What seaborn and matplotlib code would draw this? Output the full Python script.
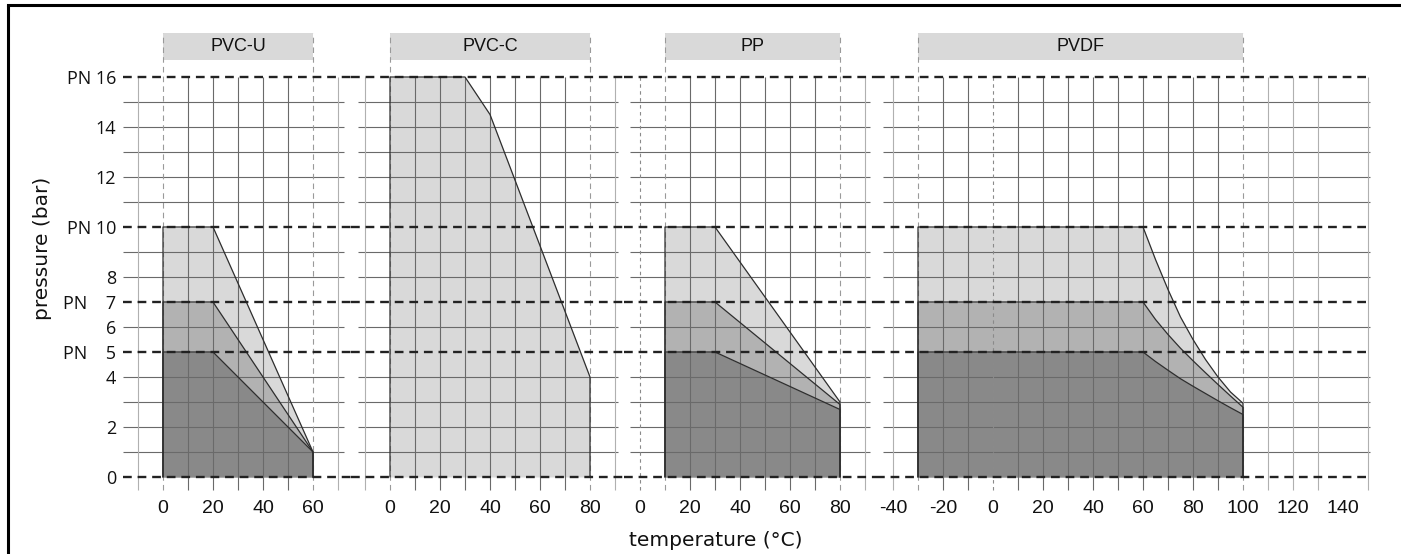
import matplotlib
matplotlib.use("Agg")
import matplotlib.pyplot as plt
import seaborn as sns
import pandas as pd
from matplotlib.lines import Line2D
from matplotlib.patches import Rectangle

# ---------------- data ----------------
materials = ["PVC-U", "PVC-C", "PP", "PVDF"]
header_ranges = [(0, 60), (0, 80), (10, 80), (-30, 100)]
xtick_values = [[0, 20, 40, 60],
                [0, 20, 40, 60, 80],
                [0, 20, 40, 60, 80],
                [-40, -20, 0, 20, 40, 60, 80, 100, 120, 140]]

pn_levels = [16, 10, 7, 5, 0]
ytick_values = [0, 2, 4, 5, 6, 7, 8, 10, 12, 14, 16]
ytick_labels = ["0", "2", "4", "PN    5", "6", "PN    7", "8", "PN 10", "12", "14", "PN 16"]
minor_grid_y = [1, 2, 3, 4, 6, 8, 9, 11, 12, 13, 14, 15]

pvcu_temp = [0, 20, 60]
pvcu_pn10 = [10, 10, 1]
pvcu_pn7 = [7, 7, 1]
pvcu_pn5 = [5, 5, 1]

pvcc_temp = [0, 30, 40, 80]
pvcc_pn16 = [16, 16, 14.5, 4]

pp_temp = [10, 30, 80]
pp_pn10 = [10, 10, 3.0]
pp_pn7 = [7, 7, 2.9]
pp_pn5 = [5, 5, 2.7]

pvdf_temp = [-30, 60, 65, 70, 75, 80, 85, 90, 95, 100]
pvdf_pn10 = [10, 10, 8.7, 7.5, 6.4, 5.5, 4.7, 4.0, 3.4, 2.95]
pvdf_pn7 = [7, 7, 6.3, 5.7, 5.15, 4.65, 4.17, 3.7, 3.24, 2.79]
pvdf_pn5 = [5, 5, 4.62, 4.27, 3.93, 3.63, 3.34, 3.05, 2.77, 2.5]

# curves per panel: (temps, pressures, fill colour)
LIGHT, MID, DARK = "#d9d9d9", "#b2b2b2", "#898989"
panel_curves = [
    [(pvcu_temp, pvcu_pn10, LIGHT), (pvcu_temp, pvcu_pn7, MID), (pvcu_temp, pvcu_pn5, DARK)],
    [(pvcc_temp, pvcc_pn16, LIGHT)],
    [(pp_temp, pp_pn10, LIGHT), (pp_temp, pp_pn7, MID), (pp_temp, pp_pn5, DARK)],
    [(pvdf_temp, pvdf_pn10, LIGHT), (pvdf_temp, pvdf_pn7, MID), (pvdf_temp, pvdf_pn5, DARK)],
]

# grid layout per panel
inner_vlines = [[10, 20, 30, 40, 50],
                [10, 20, 30, 40, 50, 60, 70],
                [20, 30, 40, 50, 60, 70],
                [-20, -10, 10, 20, 30, 40, 50, 60, 70, 80, 90]]
outer_vlines = [[-10, 70], [-10, 90], [90], [-40, 110, 120, 130, 150]]
zero_vlines = [[], [], [0], [0]]
hgrid_extent = [(-16, 72.4), (-12.8, 91.2), (-4, 92), (-44, 150.8)]
pn_extent = [(-16, 75.2), (-15.6, 93.6), (-6.4, 94.4), (-46.8, 151)]

# axes placement in pixels: (left px, right px, px of temp 0)
panel_px = [(123, 351, 163), (351, 624, 390), (624, 876, 640), (876, 1385, 993)]
PX_PER_DEG = 2.5
W, H = 1401, 554
Y_BOT_PX, Y_TOP_PX = 492, 32
YLIM = (-0.6, 17.8)

# ---------------- drawing ----------------
sns.set_theme(style="white")
plt.rcParams["lines.scale_dashes"] = False
plt.rcParams["font.family"] = ["Liberation Sans", "DejaVu Sans"]

fig = plt.figure(figsize=(W / 100, H / 100), dpi=100)
fig.patch.set_facecolor("white")

GRID_DARK = "#6a6a6a"
GRID_LIGHT = "#b0b0b0"
PN_DASH = (0, (6.3, 4.2))

for i, mat in enumerate(materials):
    lpx, rpx, zpx = panel_px[i]
    ax = fig.add_axes([lpx / W, 1 - Y_BOT_PX / H, (rpx - lpx) / W, (Y_BOT_PX - Y_TOP_PX) / H])
    ax.set_facecolor("none")
    ax.set_xlim((lpx - zpx) / PX_PER_DEG, (rpx - zpx) / PX_PER_DEG)
    ax.set_ylim(*YLIM)
    for s in ax.spines.values():
        s.set_visible(False)

    # fills
    for temps, pres, col in panel_curves[i]:
        ax.fill_between(temps, 0, pres, color=col, lw=0, zorder=1)

    # horizontal grid
    hx0, hx1 = hgrid_extent[i]
    ax.hlines(minor_grid_y, hx0, hx1, color=GRID_DARK, lw=0.8, zorder=2)

    # vertical grid
    ax.vlines(inner_vlines[i], -0.52, 16, color=GRID_DARK, lw=0.8, zorder=2)
    ax.vlines(outer_vlines[i], -0.52, 16, color=GRID_LIGHT, lw=0.8, zorder=2)
    if zero_vlines[i]:
        ax.vlines(zero_vlines[i], -0.52, 16, color="#8a8a8a", lw=0.8,
                  linestyles=[(0, (2.5, 2.5))], zorder=2)

    # header
    h0, h1 = header_ranges[i]
    ax.add_patch(Rectangle((h0, 16.68), h1 - h0, 1.08, facecolor="#d9d9d9",
                           edgecolor="none", clip_on=False, zorder=1))
    ax.text((h0 + h1) / 2, 17.22, mat, ha="center", va="center", fontsize=13,
            color="#111111", family=["Liberation Sans", "DejaVu Sans"], zorder=5)
    ax.vlines([h0, h1], -0.52, 17.76, color="#9a9a9a", lw=0.8,
              linestyles=[(0, (4, 3))], zorder=2, clip_on=False)

    # outlines via seaborn
    for temps, pres, col in panel_curves[i]:
        ox = [temps[0]] + list(temps) + [temps[-1]]
        oy = [0] + list(pres) + [0]
        df = pd.DataFrame({"temp": ox, "p": oy})
        sns.lineplot(data=df, x="temp", y="p", sort=False, estimator=None,
                     color="#2e2e2e", lw=0.9, ax=ax, zorder=3)

    # PN dashed lines
    px0, px1 = pn_extent[i]
    for lvl in pn_levels:
        ax.plot([px0, px1], [lvl, lvl], color="#222222", lw=1.7,
                linestyle=PN_DASH, zorder=4, clip_on=False, dash_capstyle="butt")

    ax.set_xlabel("")
    ax.set_ylabel("")
    ax.set_xticks(xtick_values[i])
    ax.set_xticklabels([str(v) for v in xtick_values[i]],
                       fontsize=14, color="#111111", family=["Liberation Sans"])
    ax.tick_params(axis="x", length=0, pad=6)
    if i == 0:
        ax.set_yticks(ytick_values)
        ax.set_yticklabels(ytick_labels, fontsize=13, color="#111111",
                           family=["Open Sans", "DejaVu Sans"])
        ax.tick_params(axis="y", length=0, pad=5)
    else:
        ax.set_yticks([])

# axis titles
fig.text(42 / W, 1 - 248 / H, "pressure (bar)", rotation=90, ha="center", va="center",
         fontsize=14.5, color="#111111", family=["DejaVu Sans"])
fig.text(716 / W, 1 - 540 / H, "temperature (°C)", ha="center", va="center",
         fontsize=14.5, color="#111111", family=["DejaVu Sans"])

# frame (left and top edges)
fig.add_artist(Line2D([8 / W, 8 / W], [0, 1 - 5 / H], color="black", lw=2.2,
                      transform=fig.transFigure, solid_capstyle="butt"))
fig.add_artist(Line2D([8 / W, 1.0], [1 - 5 / H, 1 - 5 / H], color="black", lw=2.2,
                      transform=fig.transFigure, solid_capstyle="projecting"))

fig.savefig("out.png", dpi=100)
